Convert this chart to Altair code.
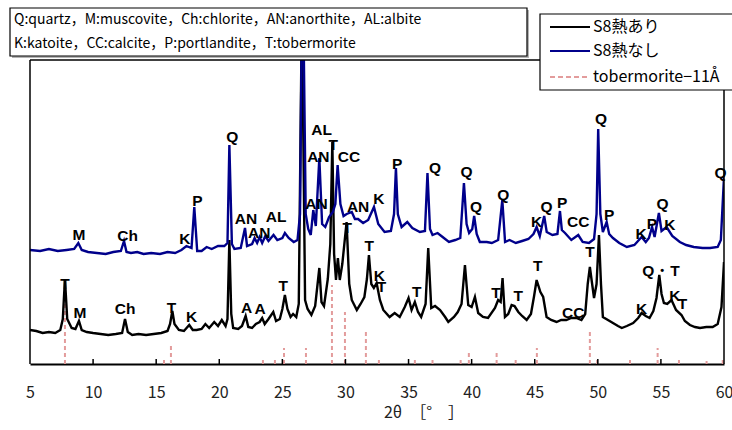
import altair as alt
import pandas as pd

# ---------------- data ----------------
blue_x = [5.0, 5.8, 6.5, 7.2, 7.9, 8.5, 8.83, 9.1, 9.6, 10.3, 11.0, 11.6, 12.2, 12.45, 12.65, 13.0, 13.5, 14.0,
          14.6, 15.3, 15.9, 16.5, 17.0, 17.4, 17.8, 18.02, 18.25, 18.6, 19.0, 19.4, 19.9, 20.4, 20.65, 20.8, 21.0,
          21.2, 21.7, 22.04, 22.2, 22.6, 22.8, 23.0, 23.2, 23.4, 23.65, 23.9, 24.3, 24.6, 25.0, 25.2, 25.5, 25.9,
          26.2, 26.4, 26.6, 26.85, 27.05, 27.25, 27.45, 27.65, 27.93, 28.15, 28.4, 28.7, 29.0, 29.2, 29.38, 29.6,
          29.85, 30.1, 30.5, 30.75, 31.0, 31.4, 31.8, 32.26, 32.6, 33.1, 33.6, 33.85, 34.0, 34.15, 34.45, 34.9,
          35.3, 35.9, 36.3, 36.5, 36.7, 36.9, 37.3, 37.7, 38.2, 38.7, 39.1, 39.39, 39.6, 39.8, 40.05, 40.2, 40.4,
          40.65, 41.2, 41.6, 42.1, 42.43, 42.65, 43.0, 43.5, 44.0, 44.5, 44.9, 45.15, 45.4, 45.75, 45.95, 46.4,
          46.8, 47.0, 47.15, 47.4, 47.9, 48.45, 48.8, 49.3, 49.7, 49.9, 50.03, 50.2, 50.4, 50.7, 50.9, 51.2, 51.7,
          52.3, 52.9, 53.47, 53.8, 54.05, 54.3, 54.5, 54.84, 55.05, 55.45, 55.9, 56.5, 57.0, 57.6, 58.3, 58.9,
          59.5, 59.75, 60.0]
blue_y = [114, 113, 115, 113, 114, 115, 121, 114, 112, 111, 110, 112, 113, 123, 112, 111, 112, 110,
          111, 110, 112, 111, 114, 118, 116, 157, 113, 113, 117, 115, 118, 118, 121, 219, 120,
          115, 116, 136, 118, 120, 126, 121, 127, 121, 128, 123, 129, 124, 126, 131, 126, 122,
          124, 150, 420, 150, 135, 129, 154, 138, 206, 140, 137, 147, 152, 160, 199, 160,
          148, 150, 152, 145, 145, 141, 144, 157, 140, 132, 133, 150, 196, 150, 137, 142,
          136, 132, 133, 191, 135, 129, 131, 127, 122, 124, 126, 181, 140, 131, 135, 148, 130,
          122, 122, 121, 124, 164, 122, 124, 121, 123, 125, 130, 137, 128, 148, 132, 129,
          130, 153, 134, 131, 124, 129, 122, 121, 125, 150, 235, 150, 132, 142, 130, 126, 121,
          117, 119, 127, 122, 126, 137, 127, 151, 133, 137, 128, 122, 119, 117, 116, 116,
          117, 124, 187]

black_x = [5.0, 5.5, 6.0, 6.5, 7.0, 7.4, 7.6, 7.77, 7.95, 8.3, 8.6, 8.88, 9.1, 9.5, 10.0, 10.6, 11.2, 11.8,
           12.3, 12.53, 12.75, 13.1, 13.6, 14.2, 14.8, 15.4, 15.9, 16.1, 16.28, 16.45, 16.8, 17.2, 17.62, 17.9,
           18.2, 18.6, 18.9, 19.2, 19.6, 19.9, 20.2, 20.5, 20.65, 20.8, 20.95, 21.1, 21.5, 21.8, 22.09, 22.3,
           22.6, 22.9, 23.2, 23.4, 23.6, 23.9, 24.28, 24.5, 24.8, 25.0, 25.2, 25.4, 25.65, 25.85, 26.1, 26.3,
           26.55, 26.8, 27.0, 27.3, 27.6, 27.93, 28.1, 28.3, 28.6, 28.8, 28.96, 29.1, 29.25, 29.4, 29.55, 29.75,
           30.09, 30.3, 30.5, 30.9, 31.2, 31.5, 31.7, 31.86, 32.05, 32.25, 32.47, 32.73, 33.0, 33.5, 33.9, 34.3,
           34.7, 35.0, 35.24, 35.5, 35.75, 36.0, 36.35, 36.56, 36.8, 37.1, 37.5, 37.9, 38.15, 38.6, 38.9, 39.2,
           39.47, 39.73, 40.0, 40.26, 40.52, 40.9, 41.3, 41.85, 42.1, 42.3, 42.45, 42.64, 42.9, 43.17, 43.4,
           43.7, 44.0, 44.36, 44.7, 44.95, 45.15, 45.45, 45.67, 45.94, 46.3, 46.73, 47.1, 47.5, 47.9, 48.3, 48.7,
           49.0, 49.2, 49.37, 49.55, 49.7, 49.9, 50.09, 50.25, 50.4, 50.8, 51.2, 51.6, 51.9, 52.3, 52.8, 53.2,
           53.47, 53.8, 54.1, 54.4, 54.65, 54.87, 55.05, 55.24, 55.5, 55.84, 56.2, 56.63, 56.9, 57.3, 57.7,
           58.1, 58.6, 59.1, 59.5, 59.8, 60.0]
black_y = [34, 33, 31, 32, 31, 34, 45, 85, 45, 36, 35, 43, 34, 32, 31, 30, 29, 30,
           31, 45, 32, 29, 30, 29, 30, 31, 33, 40, 53, 40, 34, 33, 39, 34,
           34, 35, 40, 36, 42, 38, 44, 38, 45, 124, 50, 36, 35, 38, 48, 37,
           36, 40, 42, 46, 40, 45, 52, 43, 45, 55, 69, 55, 47, 50, 47, 60,
           360, 64, 55, 49, 58, 96, 62, 58, 85, 120, 222, 110, 84, 106, 84, 100,
           142, 80, 64, 54, 60, 67, 85, 109, 80, 76, 81, 64, 54, 47, 51, 47,
           57, 66, 54, 62, 52, 47, 60, 116, 56, 58, 54, 47, 42, 47, 52, 60,
           99, 59, 57, 67, 51, 47, 46, 56, 64, 62, 86, 47, 50, 59, 58,
           52, 48, 44, 50, 68, 84, 72, 67, 47, 44, 42, 44, 44, 46, 46, 44,
           50, 80, 97, 80, 66, 80, 129, 80, 47, 44, 41, 38, 36, 38, 41, 46,
           51, 48, 46, 53, 66, 89, 70, 61, 60, 64, 54, 49, 43, 39, 37,
           36, 37, 37, 40, 57, 102]

ref_x = [7.77, 15.62, 16.17, 23.46, 24.41, 25.13, 26.87, 28.93, 29.96, 31.62, 32.65, 35.5, 36.9,
         39.13, 39.78, 41.98, 43.49, 45.17, 49.37, 49.95, 52.55, 54.74, 56.43, 58.62, 59.9]
ref_h = [61, 4, 21, 6, 6, 16, 16, 79, 52, 34, 6, 6, 6, 6, 11, 14, 7, 16, 34, 6, 4, 16, 6, 3, 6]

lab_text = ["M", "Ch", "K", "P", "Q", "AN", "AN", "AL", "AL", "AN", "CC", "AN", "AN", "K", "P", "Q", "Q",
            "Q", "Q", "K", "Q", "P", "CC", "Q", "P", "K", "P", "Q", "K", "Q",
            "T", "T", "M", "Ch", "T", "K", "A", "A", "T", "T", "T", "K", "T", "T", "T", "T", "T", "CC",
            "T", "K", "Q・T", "K", "T"]
lab_x = [8.88, 12.74, 17.28, 18.26, 21.03, 22.11, 23.17, 24.5, 28.11, 27.85, 30.28, 27.7, 31.0, 32.65,
         34.1, 37.1, 39.6, 40.34, 42.5, 45.15, 45.94, 47.18, 48.45, 50.25, 50.9, 53.42, 54.29, 55.13,
         55.71, 59.73,
         29.03, 7.77, 8.96, 12.53, 16.22, 17.81, 22.17, 23.23, 25.07, 30.15, 31.89, 32.68, 32.86, 35.64,
         41.92, 43.7, 45.23, 48.05, 49.37, 53.47, 55.0, 56.11, 56.7]
lab_y = [129, 128, 125, 163, 227, 145, 131, 147, 234, 207, 207, 160, 157, 165,
         200, 196, 192, 157, 169, 142, 157, 161, 142, 245, 149, 130, 140, 160,
         139, 191,
         219, 80, 51, 55, 56, 47, 56, 55, 78, 136, 118, 88, 77, 72,
         71, 68, 98, 51, 112, 55, 93, 68, 60]

tick_vals = [10, 15, 20, 25, 30, 35, 40, 45, 50, 55]
axis_vals = [5, 10, 15, 20, 25, 30, 35, 40, 45, 50, 55, 60]

info_lines = ["Q:quartz，M:muscovite，Ch:chlorite，AN:anorthite，AL:albite",
              "K:katoite，CC:calcite，P:portlandite，T:tobermorite"]
legend_names = ["S8熱あり", "S8熱なし", "tobermorite−11Å"]

BLUE = "#00008B"
PINK = "#E39C9C"
JP = "Noto Sans CJK JP"

# ---------------- chart ----------------
W, H = 694, 304
xs = alt.Scale(domain=[5, 60], nice=False, zero=False)
ys = alt.Scale(domain=[0, 304], nice=False, zero=False)

df_blue = pd.DataFrame({"x": blue_x, "y": blue_y})
df_black = pd.DataFrame({"x": black_x, "y": black_y})
df_ref = pd.DataFrame({"x": ref_x, "y0": [0] * len(ref_x), "h": ref_h})
df_lab = pd.DataFrame({"x": lab_x, "y": lab_y, "t": lab_text})
df_ticks = pd.DataFrame({"x": tick_vals})
one = pd.DataFrame({"a": [0]})

x_axis = alt.Axis(values=axis_vals, tickSize=0, labelPadding=20, labelFontSize=16, labelFont=JP,
                  labelColor="#222222", domainColor="black", domainWidth=2, grid=False, title=None,
                  labelFlush=False)

refs = alt.Chart(df_ref).mark_rule(color=PINK, strokeWidth=2, strokeDash=[4, 3]).encode(
    x=alt.X("x:Q", scale=xs, axis=x_axis), y=alt.Y("y0:Q", scale=ys, axis=None), y2="h:Q")

black = alt.Chart(df_black).mark_line(color="black", strokeWidth=2.4, clip=True).encode(
    x=alt.X("x:Q", scale=xs), y=alt.Y("y:Q", scale=ys))

blue = alt.Chart(df_blue).mark_line(color=BLUE, strokeWidth=2.4, clip=True).encode(
    x=alt.X("x:Q", scale=xs), y=alt.Y("y:Q", scale=ys))

labels = alt.Chart(df_lab).mark_text(font="Liberation Sans", fontWeight="bold", fontSize=15.5,
                                     color="black", align="center", baseline="middle").encode(
    x=alt.X("x:Q", scale=xs), y=alt.Y("y:Q", scale=ys), text="t:N")

ticks = alt.Chart(df_ticks).mark_rule(color="black", strokeWidth=1.5).encode(
    x=alt.X("x:Q", scale=xs), y=alt.value(H), y2=alt.value(H - 5))

frame = alt.layer(
    alt.Chart(one).mark_rule(color="black", strokeWidth=1.5).encode(
        x=alt.value(0), x2=alt.value(W), y=alt.value(0)),
    alt.Chart(one).mark_rule(color="black", strokeWidth=1.5).encode(
        x=alt.value(0), y=alt.value(0), y2=alt.value(H)),
    alt.Chart(one).mark_rule(color="black", strokeWidth=1.5).encode(
        x=alt.value(W), y=alt.value(0), y2=alt.value(H)),
)

xtitle = alt.Chart(one).mark_text(text="2θ　［°　］", font=JP, fontSize=16, color="#222222",
                                  align="center", baseline="middle").encode(
    x=alt.value(394), y=alt.value(49 + H))

info_shadow = alt.Chart(one).mark_rect(fill="#b4b4b4").encode(
    x=alt.value(-18), x2=alt.value(499), y=alt.value(-50), y2=alt.value(-2))
info_box = alt.Chart(one).mark_rect(fill="white", stroke="black", strokeWidth=1.2).encode(
    x=alt.value(-20), x2=alt.value(497), y=alt.value(-52), y2=alt.value(-4))
info_t1 = alt.Chart(one).mark_text(text=info_lines[0], font=JP, fontSize=14, color="black",
                                   align="left", baseline="middle").encode(
    x=alt.value(-16), y=alt.value(-40))
info_t2 = alt.Chart(one).mark_text(text=info_lines[1], font=JP, fontSize=14, color="black",
                                   align="left", baseline="middle").encode(
    x=alt.value(-16), y=alt.value(-16))

leg_box = alt.Chart(one).mark_rect(fill="white", stroke="black", strokeWidth=1.2).encode(
    x=alt.value(510), x2=alt.value(708), y=alt.value(-46), y2=alt.value(30))
leg_layers = [leg_box]
leg_ys = [-33, -9, 17]
leg_cols = ["black", BLUE, PINK]
for i in range(3):
    if i < 2:
        ln = alt.Chart(one).mark_rule(color=leg_cols[i], strokeWidth=2).encode(
            x=alt.value(520), x2=alt.value(560), y=alt.value(leg_ys[i]))
    else:
        ln = alt.Chart(one).mark_rule(color=leg_cols[i], strokeWidth=2, strokeDash=[5, 3]).encode(
            x=alt.value(520), x2=alt.value(560), y=alt.value(leg_ys[i]))
    tx = alt.Chart(one).mark_text(text=legend_names[i], font=JP, fontSize=16, color="black",
                                  align="left", baseline="middle").encode(
        x=alt.value(563), y=alt.value(leg_ys[i]))
    leg_layers += [ln, tx]

chart = alt.layer(
    refs, black, blue, labels, ticks, frame, xtitle,
    info_shadow, info_box, info_t1, info_t2, *leg_layers
).properties(
    width=W, height=H,
    padding={"left": 30, "top": 60, "right": 8, "bottom": 66},
    autosize=alt.AutoSizeParams(type="none"),
    background="white",
).configure_view(stroke=None)

chart.save("out.html", embed_options={"renderer": "svg", "actions": False})
